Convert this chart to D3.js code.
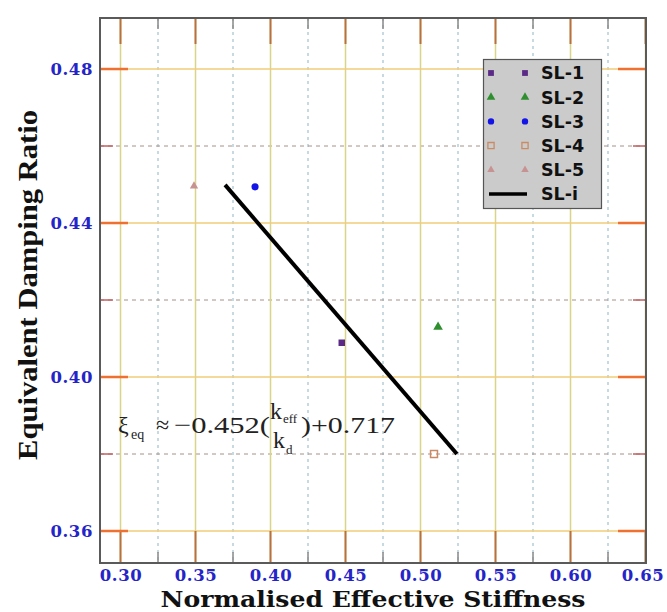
<!DOCTYPE html>
<html><head><meta charset="utf-8">
<script src="https://cdn.jsdelivr.net/npm/d3@7"></script>
<style>body{margin:0;background:#fff}svg{display:block}</style>
</head><body>
<svg id="c" width="667" height="612"></svg>
<script>
const seriesNames = ["SL-1","SL-2","SL-3","SL-4","SL-5"];
const xValues = [0.4475, 0.5117, 0.3897, 0.509, 0.349];
const yValues = [0.4089, 0.413, 0.4494, 0.380, 0.4496];
const fitName = "SL-i";
const fitX = [0.3697, 0.5243];
const fitY = [0.4499, 0.380];
const xMajorTicks = [0.30,0.35,0.40,0.45,0.50,0.55,0.60,0.65];
const xMinorTicks = [0.325,0.375,0.425,0.475,0.525,0.575,0.625];
const yMajorTicks = [0.36,0.40,0.44,0.48];
const yMinorTicks = [0.38,0.42,0.46];
const xTitle = "Normalised Effective Stiffness";
const yTitle = "Equivalent Damping Ratio";

const L=100,R=646,T=18,B=563;
const x = d3.scaleLinear().domain([0.28633,0.65033]).range([L,R]);
const y = d3.scaleLinear().domain([0.35169,0.49325]).range([B,T]);
const svg = d3.select("#c");

const markerStyle = {
  "SL-1":{shape:d3.symbolSquare,size:42,fill:"#5a2a86",stroke:"none"},
  "SL-2":{shape:d3.symbolTriangle,size:40,fill:"#2f8f2f",stroke:"none"},
  "SL-3":{shape:d3.symbolCircle,size:40,fill:"#1414e6",stroke:"none"},
  "SL-4":{shape:d3.symbolSquare,size:48,fill:"none",stroke:"#c98a66"},
  "SL-5":{shape:d3.symbolTriangle,size:30,fill:"#c79292",stroke:"none"}
};

const g = svg.append("g");
g.selectAll(".vmin").data(xMinorTicks).join("line")
 .attr("x1",d=>x(d)).attr("x2",d=>x(d)).attr("y1",T).attr("y2",B)
 .attr("stroke","#8fb4c4").attr("stroke-width",1).attr("stroke-dasharray","3,4");
g.selectAll(".hmin").data(yMinorTicks).join("line")
 .attr("x1",L).attr("x2",R).attr("y1",d=>y(d)).attr("y2",d=>y(d))
 .attr("stroke","#a89088").attr("stroke-width",1).attr("stroke-dasharray","4,4");
g.selectAll(".vmaj").data(xMajorTicks).join("line")
 .attr("x1",d=>x(d)).attr("x2",d=>x(d)).attr("y1",T).attr("y2",B)
 .attr("stroke","#d8d48a").attr("stroke-width",1.5);
g.selectAll(".hmaj").data(yMajorTicks).join("line")
 .attr("x1",L).attr("x2",R).attr("y1",d=>y(d)).attr("y2",d=>y(d))
 .attr("stroke","#f2cc78").attr("stroke-width",1.5);

const tk = svg.append("g");
xMajorTicks.forEach(v=>{
  tk.append("line").attr("x1",x(v)).attr("x2",x(v)).attr("y1",B).attr("y2",B-32).attr("stroke","#b8703e").attr("stroke-width",2);
  tk.append("line").attr("x1",x(v)).attr("x2",x(v)).attr("y1",T).attr("y2",T+26).attr("stroke","#b8703e").attr("stroke-width",2);
});
xMinorTicks.forEach(v=>{
  tk.append("line").attr("x1",x(v)).attr("x2",x(v)).attr("y1",B).attr("y2",B-11).attr("stroke","#888").attr("stroke-width",1.5);
  tk.append("line").attr("x1",x(v)).attr("x2",x(v)).attr("y1",T).attr("y2",T+11).attr("stroke","#888").attr("stroke-width",1.5);
});
yMajorTicks.forEach(v=>{
  tk.append("line").attr("x1",L).attr("x2",L+28).attr("y1",y(v)).attr("y2",y(v)).attr("stroke","#f07030").attr("stroke-width",2.5);
  tk.append("line").attr("x1",R).attr("x2",R-28).attr("y1",y(v)).attr("y2",y(v)).attr("stroke","#f07030").attr("stroke-width",2.5);
});
yMinorTicks.forEach(v=>{
  tk.append("line").attr("x1",L).attr("x2",L+13).attr("y1",y(v)).attr("y2",y(v)).attr("stroke","#c06060").attr("stroke-width",1.5);
  tk.append("line").attr("x1",R).attr("x2",R-13).attr("y1",y(v)).attr("y2",y(v)).attr("stroke","#c06060").attr("stroke-width",1.5);
});

svg.append("rect").attr("x",L).attr("y",T).attr("width",R-L).attr("height",B-T)
 .attr("fill","none").attr("stroke","#5a5a5a").attr("stroke-width",2);

const fmt = d3.format(".2f");
const xAx = svg.append("g").attr("transform",`translate(0,${B})`)
 .call(d3.axisBottom(x).tickValues(xMajorTicks).tickFormat(fmt).tickSize(0).tickPadding(6));
const yAx = svg.append("g").attr("transform",`translate(${L},0)`)
 .call(d3.axisLeft(y).tickValues(yMajorTicks).tickFormat(fmt).tickSize(0).tickPadding(7));
[xAx,yAx].forEach(a=>{
  a.select(".domain").remove();
  a.selectAll("text").attr("fill","#2424c8").attr("font-family","DejaVu Serif")
   .attr("font-weight","bold").attr("font-size","16.5px").attr("letter-spacing","0.6px");
});
xAx.selectAll("text").filter(d=>d===0.65).attr("dx","-3");
yAx.selectAll("text").attr("dy","0.36em");

svg.append("text").attr("x",373).attr("y",607).attr("text-anchor","middle")
 .attr("font-family","DejaVu Serif").attr("font-weight","bold").attr("font-size","22px")
 .attr("textLength",425).attr("lengthAdjust","spacingAndGlyphs")
 .attr("fill","#111").text(xTitle);
svg.append("text").attr("transform",`translate(37,285) rotate(-90)`)
 .attr("text-anchor","middle").attr("font-family","Liberation Serif").attr("font-weight","bold")
 .attr("font-size","28px").attr("textLength",350).attr("lengthAdjust","spacingAndGlyphs")
 .attr("fill","#111").text(yTitle);

svg.append("path").datum(d3.zip(fitX,fitY))
 .attr("d",d3.line().x(d=>x(d[0])).y(d=>y(d[1])))
 .attr("stroke","#000").attr("stroke-width",4).attr("fill","none");

const sym = d3.symbol();
seriesNames.forEach((n,i)=>{
  const s=markerStyle[n];
  svg.append("path").attr("d",sym.type(s.shape).size(s.size)())
   .attr("transform",`translate(${x(xValues[i])},${y(yValues[i])})`)
   .attr("fill",s.fill).attr("stroke",s.stroke).attr("stroke-width",1.5);
});

// formula
const f = svg.append("g").attr("font-family","Liberation Serif").attr("fill","#222");
f.append("text").attr("x",118).attr("y",433).attr("font-size","24px").text("ξ");
f.append("text").attr("x",131).attr("y",439).attr("font-size","14px").text("eq");
f.append("text").attr("x",156).attr("y",433).attr("font-size","24px").text("≈");
f.append("text").attr("x",174).attr("y",433).attr("font-size","24px")
 .attr("textLength",96).attr("lengthAdjust","spacingAndGlyphs").text("−0.452(");
f.append("text").attr("x",270).attr("y",419).attr("font-size","24px").text("k");
f.append("text").attr("x",283).attr("y",423).attr("font-size","13px").text("eff");
f.append("text").attr("x",273).attr("y",448).attr("font-size","24px").text("k");
f.append("text").attr("x",286).attr("y",454).attr("font-size","13px").text("d");
f.append("text").attr("x",301).attr("y",433).attr("font-size","24px")
 .attr("textLength",94).attr("lengthAdjust","spacingAndGlyphs").text(")+0.717");

// legend
const lg = svg.append("g");
lg.append("rect").attr("x",483.5).attr("y",59.5).attr("width",118).attr("height",149)
 .attr("fill","#cbcbcb").attr("stroke","#555").attr("stroke-width",1.2);
const rowY = i=>73+i*24.2;
seriesNames.forEach((n,i)=>{
  const s=markerStyle[n];
  [491,525].forEach(px=>{
    lg.append("path").attr("d",sym.type(s.shape).size(s.size*0.8)())
     .attr("transform",`translate(${px},${rowY(i)})`)
     .attr("fill",s.fill).attr("stroke",s.stroke).attr("stroke-width",1.3);
  });
  lg.append("text").attr("x",541).attr("y",rowY(i)).attr("dy","0.36em")
   .attr("font-family","DejaVu Sans").attr("font-weight","bold").attr("font-size","17.5px")
   .attr("fill","#111").text(n);
});
lg.append("line").attr("x1",489).attr("x2",527).attr("y1",rowY(5)).attr("y2",rowY(5))
 .attr("stroke","#000").attr("stroke-width",3.5);
lg.append("text").attr("x",541).attr("y",rowY(5)).attr("dy","0.36em")
 .attr("font-family","DejaVu Sans").attr("font-weight","bold").attr("font-size","17.5px")
 .attr("fill","#111").text(fitName);
</script>
</body></html>
